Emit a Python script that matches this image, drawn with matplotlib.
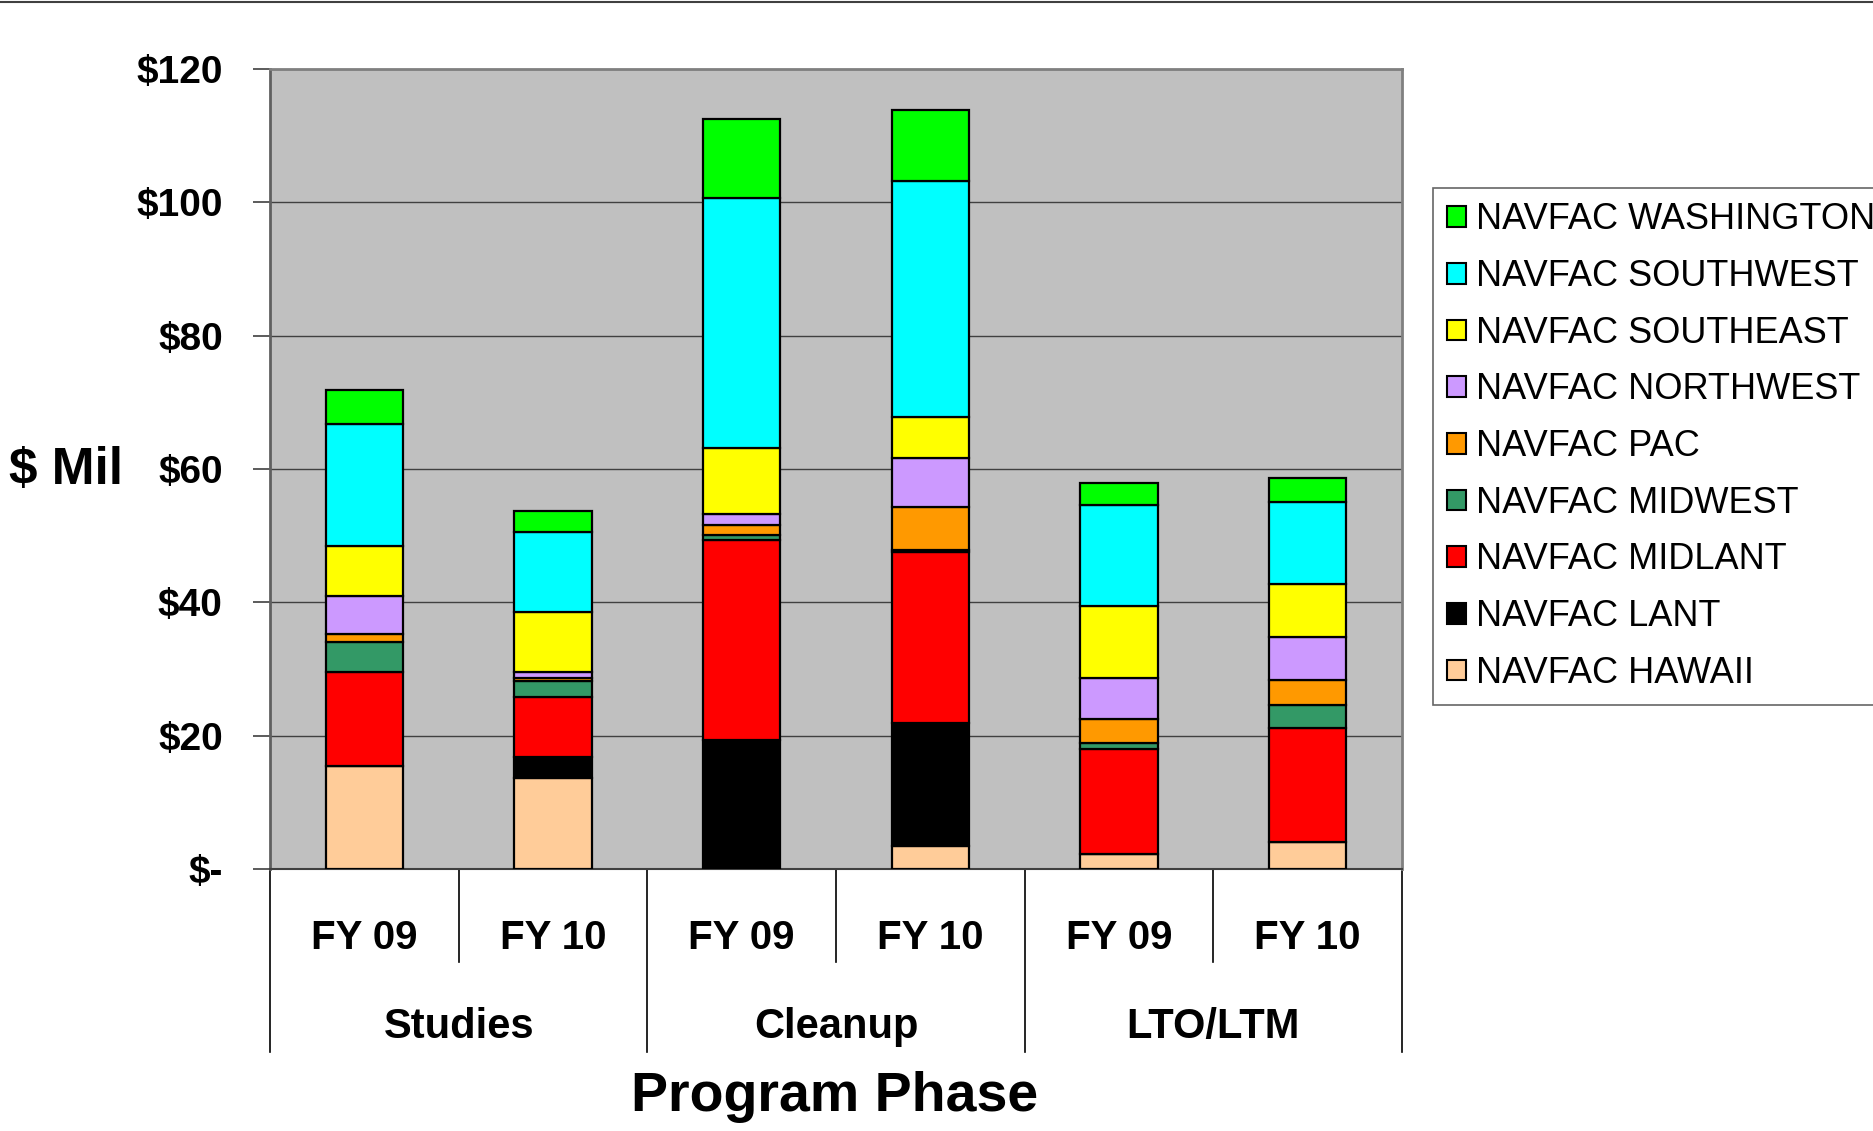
import numpy as np
import matplotlib
matplotlib.use("Agg")
import matplotlib.pyplot as plt
from matplotlib.lines import Line2D
from matplotlib.patches import Patch

# bar order: Studies FY09/FY10, Cleanup FY09/FY10, LTO/LTM FY09/FY10
years = ["FY 09", "FY 10", "FY 09", "FY 10", "FY 09", "FY 10"]
phases = ["Studies", "Cleanup", "LTO/LTM"]

# $ millions, stacked bottom -> top
hawaii = [15.5, 13.7, 0.0, 3.4, 2.3, 4.0]
lant = [0.0, 3.1, 19.3, 18.5, 0.0, 0.0]
midlant = [14.0, 9.0, 30.0, 25.7, 15.7, 17.2]
midwest = [4.5, 2.4, 0.8, 0.3, 0.9, 3.4]
pac = [1.3, 0.4, 1.5, 6.4, 3.6, 3.7]
northwest = [5.7, 0.9, 1.7, 7.3, 6.1, 6.5]
southeast = [7.4, 9.0, 9.9, 6.2, 10.8, 7.9]
southwest = [18.4, 12.0, 37.4, 35.4, 15.2, 12.3]
washington = [5.0, 3.2, 11.9, 10.6, 3.3, 3.7]

series = [
    ("NAVFAC HAWAII", hawaii, "#FFCC99"),
    ("NAVFAC LANT", lant, "#000000"),
    ("NAVFAC MIDLANT", midlant, "#FF0000"),
    ("NAVFAC MIDWEST", midwest, "#339966"),
    ("NAVFAC PAC", pac, "#FF9900"),
    ("NAVFAC NORTHWEST", northwest, "#CC99FF"),
    ("NAVFAC SOUTHEAST", southeast, "#FFFF00"),
    ("NAVFAC SOUTHWEST", southwest, "#00FFFF"),
    ("NAVFAC WASHINGTON", washington, "#00FF00"),
]

y_ticks = [0, 20, 40, 60, 80, 100, 120]
y_labels = ["$-", "$20", "$40", "$60", "$80", "$100", "$120"]

plt.rcParams["font.family"] = ["Liberation Sans", "DejaVu Sans"]

fig = plt.figure(figsize=(18.74, 11.31), dpi=100)
ax = fig.add_axes([0.1441, 0.2317, 0.604, 0.7073])
ax.set_facecolor("#C0C0C0")

x = np.arange(len(years))
bottom = np.zeros(len(years))
handles = []
for name, vals, color in series:
    vals = np.array(vals, dtype=float)
    ax.bar(x, vals, 0.41, bottom=bottom, color=color, edgecolor="black",
           linewidth=1.6, zorder=3)
    bottom += vals
    handles.append(Patch(facecolor=color, edgecolor="black", linewidth=1.5,
                         label=name))

ax.set_xlim(-0.5, len(years) - 0.5)
ax.set_ylim(0, 120)
ax.set_yticks(y_ticks)
ax.set_yticklabels(y_labels, fontsize=28, fontweight="heavy")
ax.tick_params(axis="y", direction="out", length=12, width=1.2,
               color="#404040", pad=22)
ax.set_xticks([])
ax.grid(True, axis="y", color="#404040", linewidth=1.0, zorder=1)

for side in ["top", "right"]:
    ax.spines[side].set_color("#808080")
    ax.spines[side].set_linewidth(2)
ax.spines["left"].set_color("#606060")
ax.spines["left"].set_linewidth(2)
ax.spines["bottom"].set_color("#404040")
ax.spines["bottom"].set_linewidth(1.5)

# two-level category axis
trans = ax.get_xaxis_transform()
for i in range(len(years) + 1):
    edge = i - 0.5
    low = -0.229 if i % 2 == 0 else -0.116
    ax.plot([edge, edge], [0, low], color="black", linewidth=1.2,
            transform=trans, clip_on=False)
for i, lab in enumerate(years):
    ax.text(i, -0.086, lab, transform=trans, ha="center", va="center",
            fontsize=29, fontweight="bold")
for j, lab in enumerate(phases):
    ax.text(2 * j + 0.5, -0.197, lab, transform=trans, ha="center",
            va="center", fontsize=30, fontweight="bold")

fig.text(0.4455, 0.030, "Program Phase", ha="center", va="center",
         fontsize=40, fontweight="bold")
fig.text(0.035, 0.584, "$ Mil", ha="center", va="center", fontsize=37,
         fontweight="heavy")

# thin rule along the top edge
fig.add_artist(Line2D([0, 1], [0.998, 0.998], color="#404040",
                      linewidth=1.5, transform=fig.transFigure))

leg = fig.legend(handles[::-1], [h.get_label() for h in handles[::-1]],
                 loc="upper left", bbox_to_anchor=(0.7647, 0.8338),
                 fontsize=26, frameon=True, fancybox=False,
                 handlelength=0.5, handleheight=0.5, handletextpad=0.3,
                 labelspacing=0.6, borderpad=0.4, borderaxespad=0)
leg.get_frame().set_edgecolor("#404040")
leg.get_frame().set_linewidth(1.2)

fig.savefig("out.png", dpi=100)
